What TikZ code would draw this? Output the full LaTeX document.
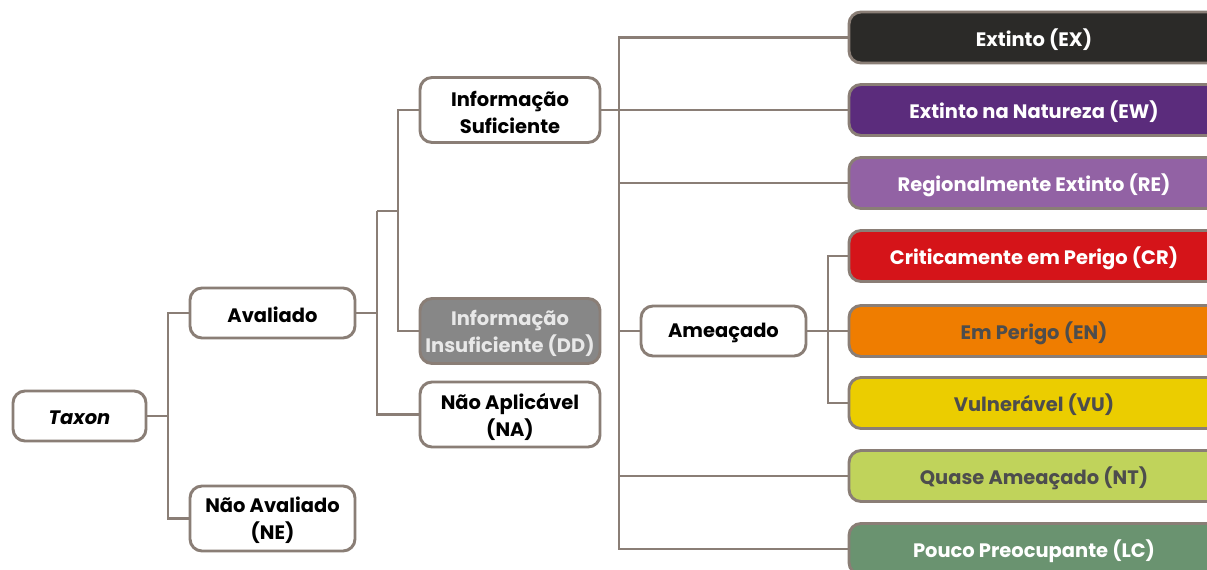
\documentclass[tikz,border=0pt]{standalone}
\usepackage{fontspec}
\setmainfont{Poppins}
\definecolor{edge}{HTML}{8A7E76}
\definecolor{cEX}{HTML}{2B2A28}
\definecolor{cEW}{HTML}{5B2C7C}
\definecolor{cRE}{HTML}{9262A4}
\definecolor{cCR}{HTML}{D51419}
\definecolor{cEN}{HTML}{EF7D00}
\definecolor{cVU}{HTML}{EBCD00}
\definecolor{cNT}{HTML}{C0D35B}
\definecolor{cLC}{HTML}{6A9370}
\definecolor{darktxt}{HTML}{4D4D4D}
\definecolor{cDD}{HTML}{878787}
\definecolor{ddtxt}{HTML}{E8E8E8}
\newcommand{\lw}[1]{\raisebox{-1.5pt}[\height][\depth]{#1}}
\begin{document}
\begin{tikzpicture}[x=0.75pt,y=-0.75pt,
  box/.style={draw=edge, line width=2.2pt, rounded corners=9pt, fill=white,
    font=\bfseries\fontsize{14.6}{20.3}\selectfont, align=center, inner sep=0pt},
  small/.style={box, minimum width=123.75pt, minimum height=37.5pt},
  tall/.style={box, minimum width=123.75pt, minimum height=48.75pt},
  mid/.style={box, minimum width=135pt, minimum height=48.75pt},
  cat/.style={box, minimum width=277.5pt, minimum height=38.25pt},
  conn/.style={draw=edge, line width=2.2pt}]
\useasboundingbox (0,0) rectangle (1207,570);
\clip (0,0) rectangle (1207,570);
\fill[white] (0,0) rectangle (1207,570);

% nodes
\node[box, minimum width=99.75pt, minimum height=37.5pt] (tax) at (79.5,416) {\lw{\itshape Taxon}};
\node[small] (av) at (272.5,313) {\lw{Avaliado}};
\node[tall] (ne) at (272.5,518.5) {\lw{Não Avaliado}\\\lw{(NE)}};
\node[mid] (is) at (510,110) {\lw{Informação}\\\lw{Suficiente}};
\node[mid, fill=cDD, text=ddtxt] (dd) at (510,331) {\lw{Informação}\\\lw{Insuficiente (DD)}};
\node[mid] (na) at (510,414.5) {\lw{Não Aplicável}\\\lw{(NA)}};
\node[small] (am) at (723.5,331) {\lw{Ameaçado}};

\node[cat, fill=cEX, text=white] (ex) at (1034,37.5) {\lw{Extinto (EX)}};
\node[cat, fill=cEW, text=white] (ew) at (1034,110) {\lw{Extinto na Natureza (EW)}};
\node[cat, fill=cRE, text=white] (re) at (1034,183) {\lw{Regionalmente Extinto (RE)}};
\node[cat, fill=cCR, text=white] (cr) at (1034,256) {\lw{Criticamente em Perigo (CR)}};
\node[cat, fill=cEN, text=darktxt] (en) at (1034,331) {\lw{Em Perigo (EN)}};
\node[cat, fill=cVU, text=darktxt] (vu) at (1034,403) {\lw{Vulnerável (VU)}};
\node[cat, fill=cNT, text=darktxt] (nt) at (1034,476) {\lw{Quase Ameaçado (NT)}};
\node[cat, fill=cLC, text=white] (lc) at (1034,549) {\lw{Pouco Preocupante (LC)}};

% junction coordinates
\coordinate (j1) at (168,416);
\coordinate (j2) at (377,313);
\coordinate (j3) at (377,211);
\coordinate (j4) at (398,211);
\coordinate (k) at (619,0);
\coordinate (m) at (828,0);

% connectors
\draw[conn] (tax.east) -- (j1);
\draw[conn] (av.west) -| (j1) |- (ne.west);
\draw[conn] (av.east) -- (j2);
\draw[conn] (j3) |- (na.west);
\draw[conn] (j3) -- (j4);
\draw[conn] (is.west) -| (j4) |- (dd.west);
\draw[conn] (ex.west) -| (k |- lc.west) -- (lc.west);
\draw[conn] (is.east) -- (ew.west);
\draw[conn] (k |- re.west) -- (re.west);
\draw[conn] (k |- am.west) -- (am.west);
\draw[conn] (k |- nt.west) -- (nt.west);
\draw[conn] (cr.west) -| (m |- vu.west) -- (vu.west);
\draw[conn] (am.east) -- (en.west);
\end{tikzpicture}
\end{document}
